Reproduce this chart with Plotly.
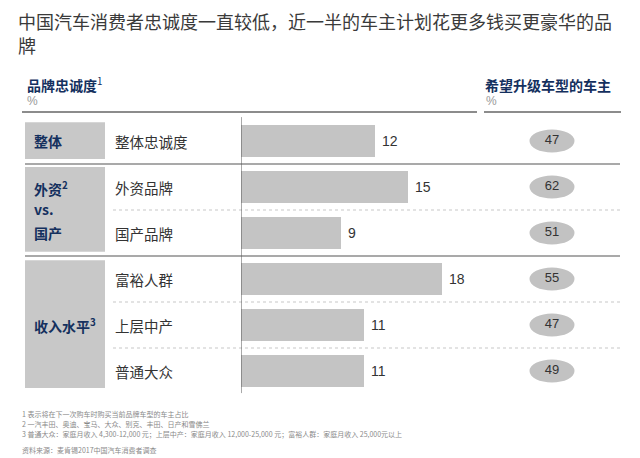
import plotly.graph_objects as go

# ---- data ----
title_lines = ["中国汽车消费者忠诚度一直较低，近一半的车主计划花更多钱买更豪华的品", "牌"]
row_labels = ["整体忠诚度", "外资品牌", "国产品牌", "富裕人群", "上层中产", "普通大众"]
loyalty = [12, 15, 9, 18, 11, 11]
upgrade = [47, 62, 51, 55, 47, 49]
group_labels = ["整体", "外资<sup>2</sup>", "vs.", "国产", "收入水平<sup>3</sup>"]
footnotes = [
    "1 表示将在下一次购车时购买当前品牌车型的车主占比",
    "2 一汽丰田、奥迪、宝马、大众、别克、丰田、日产和雪佛兰",
    "3 普通大众：家庭月收入 4,300-12,000 元；上层中产：家庭月收入 12,000-25,000 元；富裕人群：家庭月收入 25,000元以上",
]
source_text = "资料来源：麦肯锡2017中国汽车消费者调查"

W, H = 640, 458
FONT = "Noto Sans CJK SC"
NAVY = "#14305e"
GRAY_TXT = "#333333"
BOX = "#c8c8c8"
BAR = "#c4c4c4"
LINE = "#8c8c8c"

rows = list(range(len(row_labels)))
px = lambda p: p / W
py = lambda p: 1 - p / H

fig = go.Figure()
fig.add_trace(go.Bar(
    x=loyalty, y=rows, orientation="h", width=0.7,
    marker=dict(color=BAR, line=dict(width=0)),
    text=[f" {v}" for v in loyalty], textposition="outside",
    textfont=dict(family="Liberation Sans, Arial", size=14, color=GRAY_TXT),
    cliponaxis=False, hoverinfo="skip", showlegend=False,
))
fig.add_trace(go.Scatter(
    x=[0] * len(upgrade), y=rows, mode="text", xaxis="x2",
    text=[str(v) for v in upgrade], textposition="middle center",
    textfont=dict(family="Liberation Sans, Arial", size=13, color=GRAY_TXT),
    hoverinfo="skip", showlegend=False,
))

shapes = []
for r in rows:
    shapes.append(dict(type="circle", xref="paper", yref="y",
                       xsizemode="pixel", ysizemode="pixel",
                       xanchor=px(552), yanchor=r,
                       x0=-22.5, x1=22.5, y0=-11.5, y1=11.5,
                       fillcolor="#c2c2c2", line=dict(width=0), layer="below"))
for (a, b) in [(-0.41, 0.39), (0.565, 2.41), (2.59, 5.37)]:
    shapes.append(dict(type="rect", xref="paper", yref="y",
                       x0=px(25), x1=px(105), y0=a, y1=b,
                       fillcolor=BOX, line=dict(width=0), layer="below"))
shapes.append(dict(type="line", xref="paper", yref="y", x0=px(22), x1=px(477), y0=-0.63, y1=-0.63,
                   line=dict(color=LINE, width=2)))
shapes.append(dict(type="line", xref="paper", yref="y", x0=px(484), x1=px(621), y0=-0.63, y1=-0.63,
                   line=dict(color=LINE, width=2)))
for v in [0.5, 2.5]:
    shapes.append(dict(type="line", xref="paper", yref="y", x0=px(25), x1=px(620), y0=v, y1=v,
                       line=dict(color=LINE, width=1.5)))
for v in [1.5, 3.5, 4.5]:
    shapes.append(dict(type="line", xref="paper", yref="y", x0=px(113), x1=px(622), y0=v, y1=v,
                       line=dict(color="#c8c8c8", width=1.2, dash="dot")))
shapes.append(dict(type="line", xref="x", yref="y", x0=0, x1=0, y0=-0.52, y1=5.48,
                   line=dict(color="#555555", width=1)))

ann = []
for i, t in enumerate(title_lines):
    ann.append(dict(text=t, xref="paper", yref="paper", x=px(16), y=py(21 + 24 * i),
                    xanchor="left", yanchor="middle", align="left", showarrow=False,
                    font=dict(family=FONT, size=18, color="#3a3a3a")))
ann.append(dict(text="<b>品牌忠诚度</b><sup>1</sup>", xref="paper", yref="paper", x=px(25), y=py(85),
                xanchor="left", yanchor="middle", showarrow=False,
                font=dict(family=FONT, size=14, color=NAVY)))
ann.append(dict(text="%", xref="paper", yref="paper", x=px(25), y=py(101),
                xanchor="left", yanchor="middle", showarrow=False,
                font=dict(family="Liberation Sans", size=12, color="#999999")))
ann.append(dict(text="<b>希望升级车型的车主</b>", xref="paper", yref="paper", x=px(483), y=py(85),
                xanchor="left", yanchor="middle", showarrow=False,
                font=dict(family=FONT, size=14, color=NAVY)))
ann.append(dict(text="%", xref="paper", yref="paper", x=px(484), y=py(101),
                xanchor="left", yanchor="middle", showarrow=False,
                font=dict(family="Liberation Sans", size=12, color="#999999")))
for r, lab in zip(rows, row_labels):
    ann.append(dict(text=lab, xref="paper", yref="y", x=px(113), y=r,
                    xanchor="left", yanchor="middle", showarrow=False,
                    font=dict(family=FONT, size=14.5, color=GRAY_TXT)))
for lab, yv in zip(group_labels, [0, 1.03, 1.48, 2.0, 4.0]):
    ann.append(dict(text=f"<b>{lab}</b>", xref="paper", yref="y", x=px(32), y=yv,
                    xanchor="left", yanchor="middle", showarrow=False,
                    font=dict(family=FONT, size=14, color=NAVY)))
for i, t in enumerate(footnotes):
    ann.append(dict(text=t, xref="paper", yref="paper", x=px(20), y=py(414 + 10 * i),
                    xanchor="left", yanchor="middle", showarrow=False,
                    font=dict(family=FONT, size=7, color="#8a8a8a")))
ann.append(dict(text=source_text, xref="paper", yref="paper", x=px(20), y=py(450),
                xanchor="left", yanchor="middle", showarrow=False,
                font=dict(family=FONT, size=7, color="#8a8a8a")))

scale = 11.15
fig.update_layout(
    width=W, height=H, margin=dict(l=0, r=0, t=0, b=0),
    paper_bgcolor="white", plot_bgcolor="rgba(0,0,0,0)",
    xaxis=dict(domain=[px(241), px(620)], range=[0, (620 - 241) / scale],
               visible=False, fixedrange=True),
    xaxis2=dict(domain=[px(530), px(574)], range=[-1, 1], anchor="y",
                visible=False, fixedrange=True),
    yaxis=dict(domain=[0, 1], range=[(H - 141) / 46, -141 / 46],
               visible=False, fixedrange=True),
    shapes=shapes, annotations=ann, bargap=0,
)
fig.write_html("out.html")
